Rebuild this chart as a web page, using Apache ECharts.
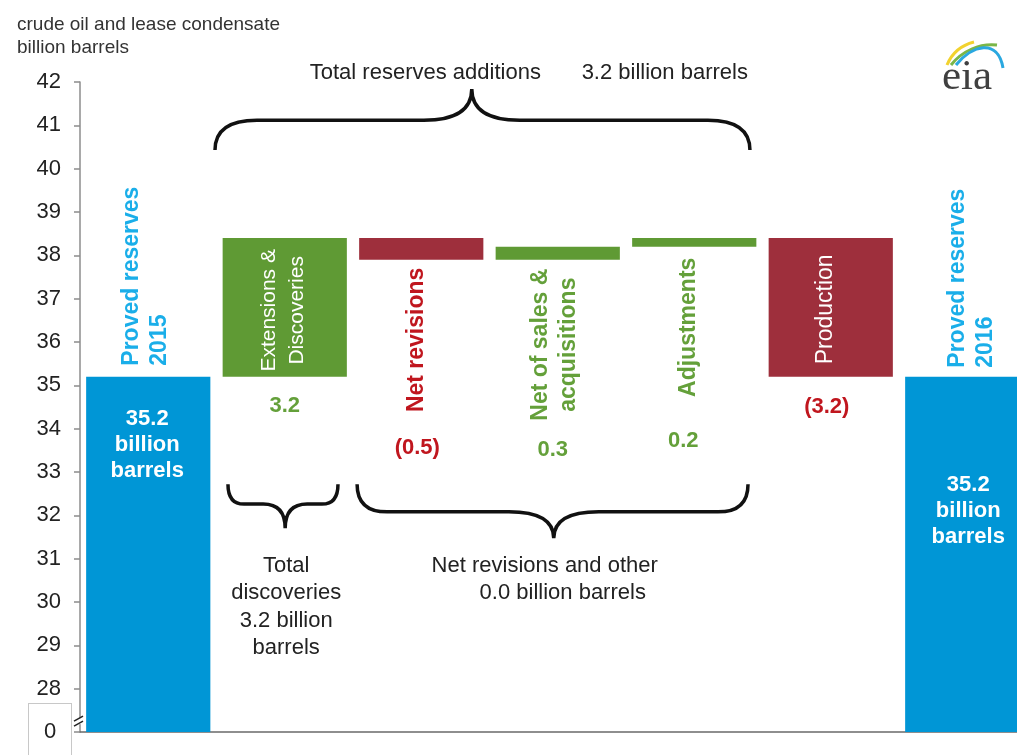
<!DOCTYPE html>
<html><head><meta charset="utf-8">
<script src="https://cdn.jsdelivr.net/npm/echarts@6/dist/echarts.min.js"></script>
<style>html,body{margin:0;padding:0;background:#fff}#c{width:1017px;height:755px}</style>
</head><body><div id="c"></div>
<script>
// ---------------- data ----------------
const categories = ['Proved reserves\n2015', 'Extensions &\nDiscoveries', 'Net revisions', 'Net of sales &\nacquisitions', 'Adjustments', 'Production', 'Proved reserves\n2016'];
const barKinds = ['total', 'change', 'change', 'change', 'change', 'change', 'total'];
const barValues = [35.2, 3.2, -0.5, 0.3, 0.2, -3.2, 35.2];
const yMin = 27, yMax = 42, yStep = 1;
const brokenAxisLabel = '0';
const titleLines = ['crude oil and lease condensate', 'billion barrels'];
const topNote = ['Total reserves additions', '3.2 billion barrels'];
const discoveriesNote = 'Total\ndiscoveries\n3.2 billion\nbarrels';
const revisionsNote = ['Net revisions and other', '0.0 billion barrels'];

// ---------------- styles ----------------
const FONT = '"Liberation Sans", Arial, sans-serif';
const C = {
  blueBar: '#0096d6', greenBar: '#5f9a34', redBar: '#9e2f3c',
  blueText: '#1aaee9', greenText: '#64a03a', redText: '#c0161e', text: '#222'
};

// waterfall extents computed from values
const barRows = [];
let running = 0;
barValues.forEach((v, i) => {
  if (barKinds[i] === 'total') { barRows.push([i, yMin, v]); running = v; }
  else { const a = running, b = running + v; barRows.push([i, Math.min(a, b), Math.max(a, b)]); running = b; }
});

function valueText(i) {
  const v = barValues[i];
  if (barKinds[i] === 'total') return v.toFixed(1) + '\nbillion\nbarrels';
  return v < 0 ? '(' + Math.abs(v).toFixed(1) + ')' : v.toFixed(1);
}

// label layout (pixel offsets relative to bar edges)
const LAYOUT = [
  { cat: { edge: 'top', dy: -11, dx: -3, align: 'left', color: C.blueText, bold: true, size: 23 }, val: { edge: 'top', dy: 68, dx: -1, color: '#fff' } },
  { cat: { edge: 'mid', dy: 3, dx: -2, align: 'center', color: '#fff', bold: false, size: 21 }, val: { edge: 'bottom', dy: 29, dx: 0, color: C.greenText } },
  { cat: { edge: 'bottom', dy: 8, dx: -5, align: 'right', color: C.redText, bold: true, size: 23 }, val: { edge: 'bottom', dy: 188, dx: -4, color: C.redText } },
  { cat: { edge: 'bottom', dy: 85, dx: -3, align: 'center', color: C.greenText, bold: true, size: 23 }, val: { edge: 'bottom', dy: 190, dx: -5, color: C.greenText } },
  { cat: { edge: 'bottom', dy: 11, dx: -6, align: 'right', color: C.greenText, bold: true, size: 23 }, val: { edge: 'bottom', dy: 194, dx: -11, color: C.greenText } },
  { cat: { edge: 'mid', dy: 2, dx: -5, align: 'center', color: '#fff', bold: false, size: 23 }, val: { edge: 'bottom', dy: 30, dx: -4, color: C.redText } },
  { cat: { edge: 'top', dy: -9, dx: 4, align: 'left', color: C.blueText, bold: true, size: 23 }, val: { edge: 'top', dy: 134, dx: 1, color: '#fff' } }
];

function edgeY(edge, topY, botY) {
  return edge === 'top' ? topY : edge === 'bottom' ? botY : (topY + botY) / 2;
}

function renderBar(params, api) {
  const i = params.dataIndex;
  const lo = api.value(1), hi = api.value(2);
  const pTop = api.coord([i, hi]), pBot = api.coord([i, lo]);
  const band = api.size([1, 0])[0];
  const w = band * 0.91;
  const cx = pTop[0];
  const v = barValues[i];
  const fill = barKinds[i] === 'total' ? C.blueBar : (v >= 0 ? C.greenBar : C.redBar);
  const L = LAYOUT[i];
  return {
    type: 'group',
    children: [
      { type: 'rect', shape: { x: cx - w / 2, y: pTop[1], width: w, height: pBot[1] - pTop[1] }, style: { fill: fill } },
      { type: 'text', x: cx + L.cat.dx, y: edgeY(L.cat.edge, pTop[1], pBot[1]) + L.cat.dy, rotation: Math.PI / 2,
        style: { text: categories[i], fill: L.cat.color, fontFamily: FONT, fontSize: L.cat.size, fontWeight: L.cat.bold ? 'bold' : 'normal',
                 align: L.cat.align, verticalAlign: 'middle', lineHeight: 28 } },
      { type: 'text', x: cx + L.val.dx, y: edgeY(L.val.edge, pTop[1], pBot[1]) + L.val.dy,
        style: { text: valueText(i), fill: L.val.color, fontFamily: FONT, fontSize: 22, fontWeight: 'bold',
                 align: 'center', verticalAlign: 'middle', lineHeight: 26 } }
    ]
  };
}

// braces: category span, fractional offsets (of band), y levels in axis units
const BRACES = [
  { from: 1, to: 4, fL: -0.511, fR: 0.408, tipFrac: 0.48, yEnd: 40.43, yFlat: 41.12, yTip: 41.84, rc: 42, rt: 48 },
  { from: 1, to: 1, fL: -0.416, fR: 0.39, tipFrac: 0.52, yEnd: 32.72, yFlat: 32.26, yTip: 31.70, rc: 16, rt: 22 },
  { from: 2, to: 4, fL: -0.47, fR: 0.394, tipFrac: 0.503, yEnd: 32.72, yFlat: 32.08, yTip: 31.47, rc: 30, rt: 45 }
];

function bracePath(xL, xR, xT, yE, yF, yT, rc, rt) {
  return 'M' + xL + ',' + yE +
    ' Q' + xL + ',' + yF + ' ' + (xL + rc) + ',' + yF +
    ' L' + (xT - rt) + ',' + yF +
    ' Q' + xT + ',' + yF + ' ' + xT + ',' + yT +
    ' Q' + xT + ',' + yF + ' ' + (xT + rt) + ',' + yF +
    ' L' + (xR - rc) + ',' + yF +
    ' Q' + xR + ',' + yF + ' ' + xR + ',' + yE;
}

function noteText(x, y, text, align, vAlign) {
  return { type: 'text', x: x, y: y, style: { text: text, fill: C.text, fontFamily: FONT, fontSize: 22, align: align, verticalAlign: vAlign || 'middle', lineHeight: 27.3 } };
}

function renderBrace(params, api) {
  const b = BRACES[params.dataIndex];
  const band = api.size([1, 0])[0];
  const xL = api.coord([b.from, yMin])[0] + b.fL * band;
  const xR = api.coord([b.to, yMin])[0] + b.fR * band;
  const xT = xL + (xR - xL) * b.tipFrac;
  const yE = api.coord([b.from, b.yEnd])[1], yF = api.coord([b.from, b.yFlat])[1], yT = api.coord([b.from, b.yTip])[1];
  const children = [{ type: 'path', shape: { pathData: bracePath(xL, xR, xT, yE, yF, yT, b.rc, b.rt) }, style: { fill: null, stroke: '#111', lineWidth: 3.5 } }];
  if (params.dataIndex === 0) {
    children.push(noteText(xT - 162, yT - 16, topNote[0], 'left'));
    children.push(noteText(xR - 2, yT - 16, topNote[1], 'right'));
  } else if (params.dataIndex === 1) {
    children.push(noteText(xT + 1, yT + 24, discoveriesNote, 'center', 'top'));
  } else {
    children.push(noteText(xT - 9, yT + 28, revisionsNote[0], 'center'));
    children.push(noteText(xT + 9, yT + 55, revisionsNote[1], 'center'));
  }
  return { type: 'group', children: children };
}

const chart = echarts.init(document.getElementById('c'), null, { renderer: 'canvas' });
chart.setOption({
  animation: false,
  backgroundColor: '#fff',
  title: {
    text: titleLines.join('\n'), left: 12, top: 8,
    textStyle: { fontFamily: FONT, fontSize: 19, fontWeight: 'normal', color: '#333', lineHeight: 23 }
  },
  grid: { left: 80, top: 82, width: 955.5, height: 650, containLabel: false, outerBoundsMode: 'none' },
  xAxis: {
    type: 'category', data: categories,
    axisLine: { show: true, lineStyle: { color: '#6a6a6a', width: 1.5 } },
    axisTick: { show: false }, axisLabel: { show: false }, splitLine: { show: false }
  },
  yAxis: {
    type: 'value', min: yMin, max: yMax, interval: yStep,
    axisLine: { show: true, lineStyle: { color: '#8c8c8c', width: 1.5 } },
    axisTick: { show: true, length: 6, lineStyle: { color: '#8c8c8c', width: 1.5 } },
    splitLine: { show: false },
    axisLabel: {
      margin: 9,
      formatter: function (v) { return v === yMin ? '{z|' + brokenAxisLabel + '}' : '{n|' + v + '}'; },
      rich: {
        n: { fontFamily: FONT, fontSize: 22, color: C.text, padding: [0, 10, 0, 0] },
        z: { fontFamily: FONT, fontSize: 22, color: C.text, width: 42, height: 56, lineHeight: 56, align: 'center',
             borderColor: '#c8c8c8', borderWidth: 1, backgroundColor: '#fff' }
      }
    }
  },
  series: [
    { type: 'custom', name: 'bars', renderItem: renderBar, data: barRows, encode: { x: 0, y: [1, 2] }, z: 2 },
    { type: 'custom', name: 'braces', renderItem: renderBrace, data: BRACES.map((b, i) => [b.from, b.yTip, i]), encode: { x: 0, y: 1 }, z: 3 }
  ]
});

// axis-break marks and logo
const ax = chart.convertToPixel({ xAxisIndex: 0, yAxisIndex: 0 }, [0, yMin + 0.25]);
const axisX = chart.convertToPixel({ xAxisIndex: 0 }, 0) - 136.5 / 2;
const by = ax[1];
chart.setOption({
  graphic: [
    { type: 'rect', shape: { x: axisX - 2, y: by - 3, width: 4, height: 6 }, style: { fill: '#fff' }, z: 10 },
    { type: 'line', shape: { x1: axisX - 6, y1: by, x2: axisX + 3, y2: by - 5 }, style: { stroke: '#222', lineWidth: 1.5 }, z: 11 },
    { type: 'line', shape: { x1: axisX - 6, y1: by + 5, x2: axisX + 3, y2: by }, style: { stroke: '#222', lineWidth: 1.5 }, z: 11 },
    { type: 'bezierCurve', shape: { x1: 947, y1: 65, cpx1: 952, cpy1: 53, cpx2: 962, cpy2: 45, x2: 974, y2: 42 }, style: { stroke: '#f2d22e', lineWidth: 3, fill: null }, z: 11 },
    { type: 'bezierCurve', shape: { x1: 951, y1: 65, cpx1: 962, cpy1: 51, cpx2: 980, cpy2: 43, x2: 997, y2: 45 }, style: { stroke: '#7ab648', lineWidth: 3, fill: null }, z: 11 },
    { type: 'bezierCurve', shape: { x1: 956, y1: 65, cpx1: 972, cpy1: 45, cpx2: 998, cpy2: 38, x2: 1003, y2: 68 }, style: { stroke: '#2aa8e0', lineWidth: 3, fill: null }, z: 11 },
    { type: 'text', x: 942, y: 78, style: { text: 'eia', fontFamily: '"Liberation Serif", serif', fontSize: 43, fill: '#404040', verticalAlign: 'middle' }, z: 12 }
  ]
});
</script>
</body></html>
